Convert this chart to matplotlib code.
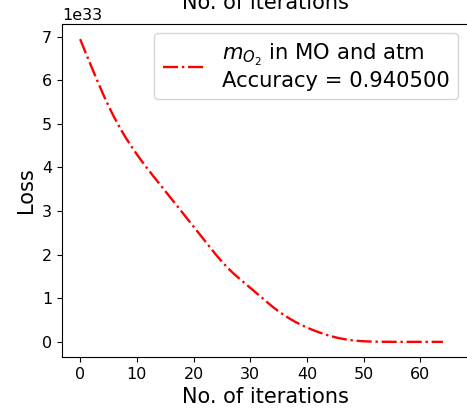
import matplotlib
matplotlib.use("Agg")
import matplotlib.pyplot as plt
import numpy as np

# loss per iteration, in units of 1e33
iterations = np.arange(0, 65)
loss = [6.94, 6.62, 6.305, 5.995, 5.695, 5.41, 5.15, 4.91, 4.69, 4.49,
        4.30, 4.12, 3.95, 3.785, 3.622, 3.459, 3.296, 3.133, 2.97, 2.807,
        2.644, 2.481, 2.318, 2.155, 1.992, 1.84, 1.70, 1.575, 1.46, 1.35,
        1.24, 1.13, 1.02, 0.91, 0.80, 0.70, 0.61, 0.53, 0.455, 0.39,
        0.33, 0.275, 0.225, 0.18, 0.14, 0.105, 0.077, 0.054, 0.036, 0.023,
        0.014, 0.008, 0.005, 0.003, 0.002, 0.001, 0.0, 0.0, 0.0, 0.0,
        0.0, 0.0, 0.0, 0.0, 0.0]
loss = np.array(loss) * 1e33

label = "$m_{O_2}$ in MO and atm\nAccuracy = 0.940500"

fig = plt.figure(figsize=(4.67, 4.12), dpi=100)
ax = fig.add_axes([62/467, 1 - 357/412, 407/467, 333/412])

ax.plot(iterations, loss, '-.', color='red', linewidth=1.7, label=label)
ax.set_xlim(-3.2, 68.6)

ax.set_title("No. of iterations", fontsize=15, pad=11)
ax.set_xlabel("No. of iterations", fontsize=15)
ax.set_ylabel("Loss", fontsize=15)
ax.tick_params(labelsize=11.5)
ax.yaxis.get_offset_text().set_fontsize(11.5)
ax.legend(loc='upper right', fontsize=15.2, borderaxespad=0,
          bbox_to_anchor=(0.973, 0.973))

fig.savefig("out.png", dpi=100)
